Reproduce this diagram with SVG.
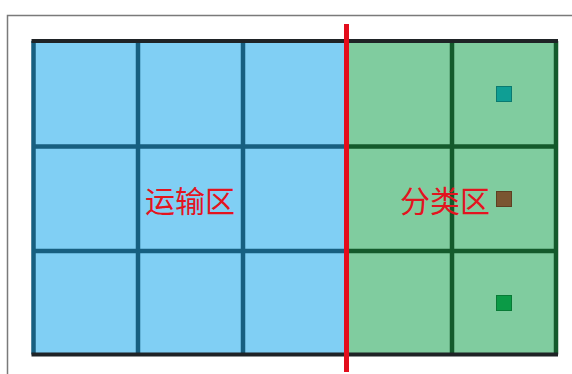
<svg xmlns="http://www.w3.org/2000/svg" width="572" height="374" viewBox="0 0 572 374">
  <style>
    .frame { stroke: #7a7a7a; stroke-width: 1.5; fill: none; }
    .bl { stroke: #175f80; stroke-width: 4.5; fill: none; }
    .gl { stroke: #145a2c; stroke-width: 4.5; fill: none; }
    .edge { stroke: #1f2326; stroke-width: 4; fill: none; }
    .lbl { font-family: "Noto Sans CJK SC", "Noto Sans", sans-serif; font-size: 30px; fill: #e3141f; text-anchor: middle; }
    .sq { stroke-width: 1; }
  </style>
  <rect width="572" height="374" fill="#ffffff"/>
  <path class="frame" d="M7.5 374 V15.5 H572"/>

  <g id="transport-zone">
    <rect x="33.5" y="41" width="313" height="313.5" fill="#80cff4"/>
    <path class="bl" d="M33.5 41 V354.5 M138 41 V354.5 M243 41 V354.5 M33.5 146.5 H346.5 M33.5 251 H346.5"/>
    <text class="lbl" x="190" y="212">运输区</text>
  </g>

  <g id="sorting-zone">
    <rect x="346.5" y="41" width="209.5" height="313.5" fill="#80cc9f"/>
    <path class="gl" d="M452 41 V354.5 M556 41 V354.5 M346.5 146.5 H556 M346.5 251 H556"/>
    <text class="lbl" x="445" y="212">分类区</text>
  </g>

  <path class="edge" d="M31.5 41 H558 M31.5 354.5 H558"/>

  <g id="item-teal"><rect class="sq" x="496.5" y="86.5" width="15" height="15" fill="#0f9e94" stroke="#0a7a70"/></g>
  <g id="item-brown"><rect class="sq" x="496.5" y="191.5" width="15" height="15" fill="#7a5531" stroke="#5e3f22"/></g>
  <g id="item-green"><rect class="sq" x="496.5" y="295.5" width="15" height="15" fill="#0b9a46" stroke="#087a36"/></g>

  <g id="connectors">
    <line id="divider" x1="346.5" y1="24" x2="346.5" y2="372" stroke="#e30d1c" stroke-width="5"/>
  </g>
</svg>
